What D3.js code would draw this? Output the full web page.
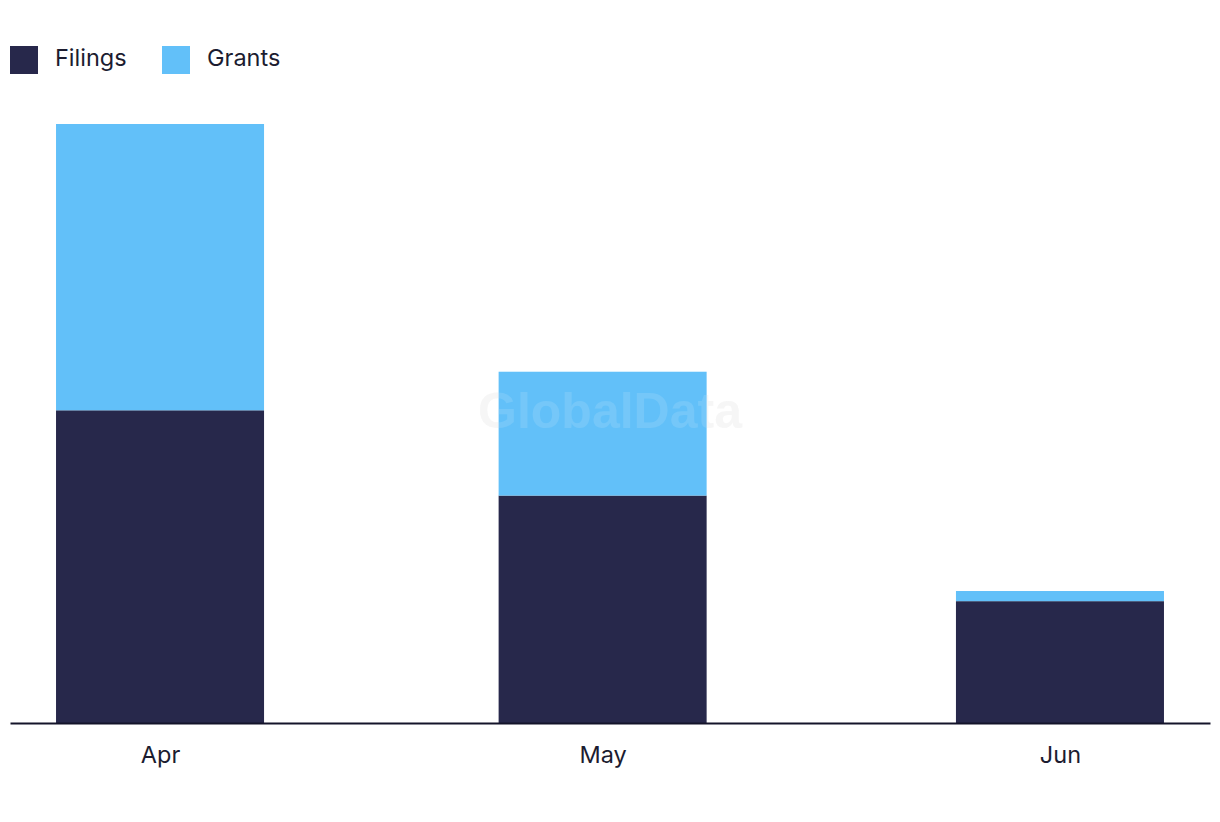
<!DOCTYPE html>
<html>
<head>
<meta charset="utf-8">
<script src="https://cdn.jsdelivr.net/npm/d3@7"></script>
<style>
  html, body { margin: 0; padding: 0; background: #fff; }
  svg { display: block; font-family: "Inter", "Noto Sans", sans-serif; }
</style>
</head>
<body>
<svg id="chart" width="1220" height="822"></svg>
<script>
const months = ["2021-04-01", "2021-05-01", "2021-06-01"];
const monthLabels = ["Apr", "May", "Jun"];
const filings = [30.8, 22.4, 12.0];
const grants = [28.2, 12.2, 1.0];
const seriesNames = ["Filings", "Grants"];
const seriesColors = ["#27284b", "#62c0f9"];

const parse = d3.timeParse("%Y-%m-%d");
const data = months.map((m, i) => ({ date: parse(m), label: monthLabels[i], Filings: filings[i], Grants: grants[i] }));

const svg = d3.select("#chart");
const W = 1220, H = 822;
const margin = { left: 10, right: 10, top: 124, bottom: 99 };
const dayMs = 86400000;
const padDays = 10.17;

const x = d3.scaleTime()
  .domain([new Date(data[0].date - padDays * dayMs), new Date(+data[data.length - 1].date + padDays * dayMs)])
  .range([margin.left, W - margin.right]);
const y = d3.scaleLinear()
  .domain([0, d3.max(data, d => d.Filings + d.Grants)])
  .range([H - margin.bottom, margin.top]);

const barHalf = (x(new Date(+data[0].date + 7.05 * dayMs)) - x(data[0].date));

// watermark (behind)
svg.append("text")
  .attr("x", 610).attr("y", 428)
  .attr("text-anchor", "middle")
  .attr("font-family", "Liberation Sans, Arial, sans-serif")
  .attr("font-weight", "bold")
  .attr("font-size", 50)
  .attr("fill", "#e8e8e8")
  .attr("fill-opacity", 0.45)
  .text("GlobalData");

const stack = d3.stack().keys(seriesNames)(data);
const color = d3.scaleOrdinal().domain(seriesNames).range(seriesColors);

svg.append("g").selectAll("g")
  .data(stack).join("g")
  .attr("fill", d => color(d.key))
  .selectAll("rect")
  .data(d => d).join("rect")
  .attr("x", d => x(d.data.date) - barHalf)
  .attr("width", barHalf * 2)
  .attr("y", d => y(d[1]))
  .attr("height", d => y(d[0]) - y(d[1]));

// watermark overlay (semi-transparent)
svg.append("text")
  .attr("x", 610).attr("y", 428)
  .attr("text-anchor", "middle")
  .attr("font-family", "Liberation Sans, Arial, sans-serif")
  .attr("font-weight", "bold")
  .attr("font-size", 50)
  .attr("fill", "#ffffff")
  .attr("fill-opacity", 0.12)
  .text("GlobalData");

// x axis
const xAxis = d3.axisBottom(x)
  .tickValues(data.map(d => d.date))
  .tickFormat((d, i) => monthLabels[i])
  .tickSize(0)
  .tickPadding(23);
const gx = svg.append("g")
  .attr("transform", `translate(0,${H - margin.bottom})`)
  .call(xAxis);
gx.select(".domain").attr("stroke", "#14142a").attr("stroke-width", 2);
gx.selectAll("text")
  .attr("font-size", 23.5)
  .attr("fill", "#1c1c30")
  .attr("font-family", "Inter, Noto Sans, sans-serif");

// legend
const legend = svg.append("g");
const legendX = [10, 162];
seriesNames.forEach((name, i) => {
  const g = legend.append("g").attr("transform", `translate(${legendX[i]},46)`);
  g.append("rect").attr("width", 28).attr("height", 28).attr("fill", seriesColors[i]);
  g.append("text").attr("x", 45).attr("y", 20)
    .attr("font-size", 23.5).attr("fill", "#1c1c30")
    .text(name);
});
</script>
</body>
</html>
